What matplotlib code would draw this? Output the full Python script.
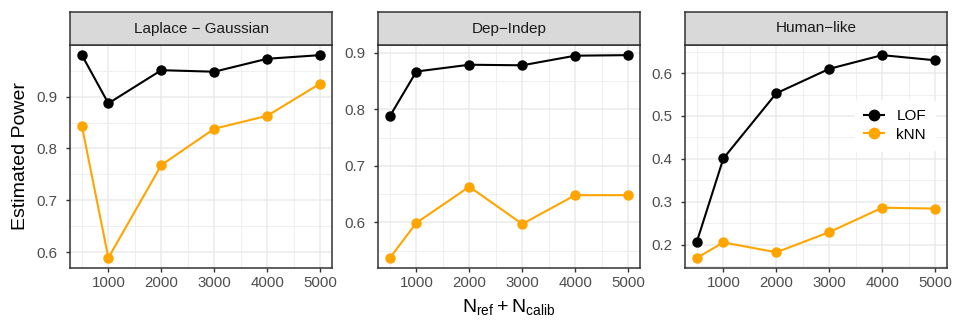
import matplotlib
matplotlib.use("Agg")
import matplotlib.pyplot as plt
from matplotlib.ticker import FixedLocator

plt.rcParams["font.family"] = ["Liberation Sans", "DejaVu Sans"]
plt.rcParams["mathtext.fontset"] = "custom"
plt.rcParams["mathtext.rm"] = "Liberation Sans"

n_total = [500, 1000, 2000, 3000, 4000, 5000]
panels = ["Laplace \u2212 Gaussian", "Dep\u2212Indep", "Human\u2212like"]

lof_laplace = [0.980, 0.887, 0.951, 0.948, 0.973, 0.980]
knn_laplace = [0.843, 0.589, 0.768, 0.838, 0.863, 0.925]
lof_dep = [0.788, 0.867, 0.879, 0.878, 0.895, 0.896]
knn_dep = [0.537, 0.599, 0.663, 0.597, 0.648, 0.648]
lof_human = [0.207, 0.401, 0.553, 0.610, 0.642, 0.630]
knn_human = [0.169, 0.205, 0.182, 0.229, 0.286, 0.284]

lof_all = [lof_laplace, lof_dep, lof_human]
knn_all = [knn_laplace, knn_dep, knn_human]
y_majors = [[0.6, 0.7, 0.8, 0.9], [0.6, 0.7, 0.8, 0.9], [0.2, 0.3, 0.4, 0.5, 0.6]]

W, H = 960, 336
fig = plt.figure(figsize=(W / 100, H / 100), dpi=100)

lefts = [70, 378, 685]
width = 262
top_strip, bot_strip, bot_panel = 12, 45, 268
dark = "#333333"

for i in range(3):
    ax = fig.add_axes([lefts[i] / W, 1 - bot_panel / H, width / W, (bot_panel - bot_strip) / H])
    ax.set_facecolor("white")
    lo = min(min(lof_all[i]), min(knn_all[i]))
    hi = max(max(lof_all[i]), max(knn_all[i]))
    pad = (hi - lo) * 0.05
    ax.set_ylim(lo - pad, hi + pad)
    ax.set_xlim(500 - 225, 5000 + 225)

    ax.xaxis.set_major_locator(FixedLocator([1000, 2000, 3000, 4000, 5000]))
    ax.xaxis.set_minor_locator(FixedLocator([500, 1500, 2500, 3500, 4500]))
    ax.yaxis.set_major_locator(FixedLocator(y_majors[i]))
    mj = y_majors[i]
    minors = [mj[0] - 0.05] + [v + 0.05 for v in mj]
    ax.yaxis.set_minor_locator(FixedLocator(minors))
    ax.grid(True, which="major", color="#EBEBEB", linewidth=1.1)
    ax.grid(True, which="minor", color="#EBEBEB", linewidth=0.55)
    ax.set_axisbelow(True)

    ax.plot(n_total, lof_all[i], color="black", linewidth=1.5, marker="o", markersize=6.5, label="LOF", zorder=3)
    ax.plot(n_total, knn_all[i], color="#FFA500", linewidth=1.5, marker="o", markersize=6.5, label="kNN", zorder=3)

    for s in ax.spines.values():
        s.set_color(dark)
        s.set_linewidth(1.1)
    ax.tick_params(which="major", length=3, width=1.0, color=dark, labelsize=10.8, labelcolor="#4D4D4D")
    ax.tick_params(axis="y", pad=6)
    ax.tick_params(axis="x", pad=3)
    ax.tick_params(which="minor", length=0)
    ax.set_yticklabels([f"{v:.1f}" for v in y_majors[i]])

    if i == 0:
        ax.set_ylabel("Estimated Power", fontsize=14, color="black", labelpad=5)
    if i == 1:
        ax.set_xlabel(r"$\mathregular{N_{ref} + N_{calib}}$", fontsize=14, labelpad=5)
    if i == 2:
        leg = ax.legend(loc="center left", bbox_to_anchor=(0.62, 0.64), frameon=True,
                        fontsize=11, handlelength=1.3, handletextpad=0.8,
                        labelspacing=0.3, borderpad=0.6, markerscale=1.15)
        leg.get_frame().set_edgecolor("white")
        leg.get_frame().set_facecolor("white")
        leg.get_frame().set_alpha(1)

    sax = fig.add_axes([lefts[i] / W, 1 - bot_strip / H, width / W, (bot_strip - top_strip) / H])
    sax.set_facecolor("#D9D9D9")
    sax.set_xticks([])
    sax.set_yticks([])
    for s in sax.spines.values():
        s.set_color(dark)
        s.set_linewidth(1.1)
    sax.text(0.5, 0.5, panels[i], ha="center", va="center", fontsize=11, color="#1A1A1A",
             transform=sax.transAxes)

fig.savefig("out.png", dpi=100)
